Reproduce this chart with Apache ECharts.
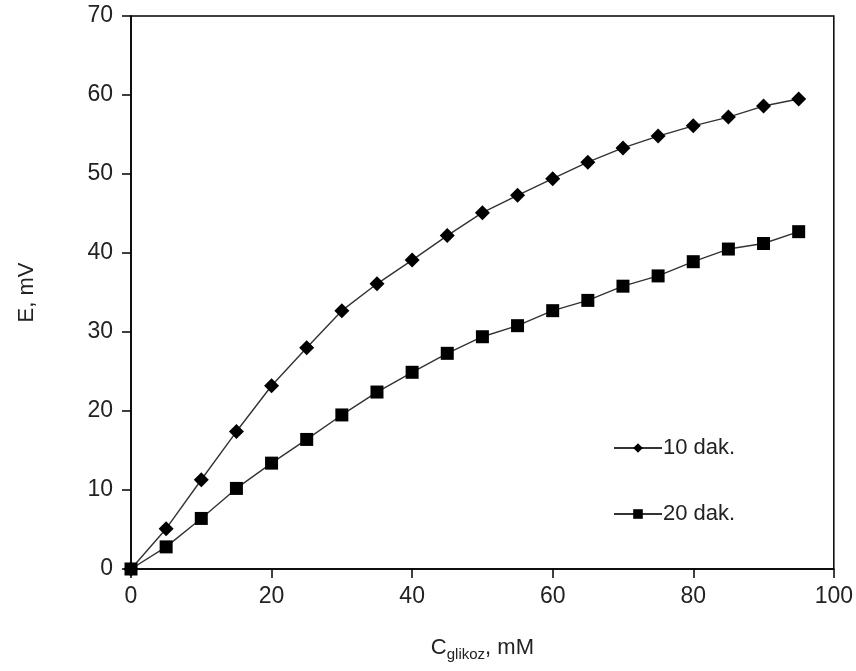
<!DOCTYPE html>
<html>
<head>
<meta charset="utf-8">
<script src="https://cdn.jsdelivr.net/npm/echarts@6/dist/echarts.min.js"></script>
<style>
html,body{margin:0;padding:0;background:#fff;}
#chart{width:856px;height:671px;}
</style>
</head>
<body>
<div id="chart"></div>
<script>
const concentrations = [0, 5, 10, 15, 20, 25, 30, 35, 40, 45, 50, 55, 60, 65, 70, 75, 80, 85, 90, 95];
const e10dak = [0, 5.1, 11.3, 17.4, 23.2, 28.0, 32.7, 36.1, 39.1, 42.2, 45.1, 47.3, 49.4, 51.5, 53.3, 54.8, 56.1, 57.2, 58.6, 59.5];
const e20dak = [0, 2.8, 6.4, 10.2, 13.4, 16.4, 19.5, 22.4, 24.9, 27.3, 29.4, 30.8, 32.7, 34.0, 35.8, 37.1, 38.9, 40.5, 41.2, 42.7];
const seriesNames = ['10 dak.', '20 dak.'];
const xTicks = [0, 20, 40, 60, 80, 100];
const yTicks = [0, 10, 20, 30, 40, 50, 60, 70];

const FONT = '"Liberation Sans", Arial, sans-serif';
const chart = echarts.init(document.getElementById('chart'), null, {renderer: 'canvas'});

const pairs = (xs, ys) => xs.map((x, i) => [x, ys[i]]);

chart.setOption({
  backgroundColor: '#ffffff',
  animation: false,
  textStyle: {fontFamily: FONT},
  grid: {left: 131, right: 22, top: 16, bottom: 102, show: true, borderColor: '#000', borderWidth: 1.5, backgroundColor: 'transparent'},
  legend: {
    orient: 'vertical',
    left: 608,
    top: 432,
    itemWidth: 48,
    itemHeight: 12,
    itemGap: 44,
    data: seriesNames,
    textStyle: {fontFamily: FONT, fontSize: 22, color: '#222', padding: [0, 0, 0, -4]}
  },
  xAxis: {
    type: 'value',
    min: xTicks[0],
    max: xTicks[xTicks.length - 1],
    interval: 20,
    name: '{c|C}{s|glikoz}{c|, mM}',
    nameLocation: 'middle',
    nameGap: 64,
    nameTextStyle: {
      rich: {
        c: {fontFamily: FONT, fontSize: 22, color: '#222', verticalAlign: 'bottom', lineHeight: 26},
        s: {fontFamily: FONT, fontSize: 15, color: '#222', verticalAlign: 'bottom', lineHeight: 20, padding: [0, 0, -3, 0]}
      }
    },
    axisLine: {onZero: false, lineStyle: {color: '#000', width: 1.5}},
    axisTick: {show: true, inside: false, length: 9, lineStyle: {color: '#000', width: 1.5}},
    axisLabel: {fontFamily: FONT, fontSize: 23, color: '#222', margin: 16},
    splitLine: {show: false}
  },
  yAxis: {
    type: 'value',
    min: yTicks[0],
    max: yTicks[yTicks.length - 1],
    interval: 10,
    name: 'E, mV',
    nameLocation: 'middle',
    nameGap: 93,
    nameTextStyle: {fontFamily: FONT, fontSize: 22, color: '#222'},
    axisLine: {onZero: false, lineStyle: {color: '#000', width: 1.5}},
    axisTick: {show: true, inside: false, length: 9, lineStyle: {color: '#000', width: 1.5}},
    axisLabel: {fontFamily: FONT, fontSize: 23, color: '#222', margin: 18},
    splitLine: {show: false}
  },
  series: [
    {
      name: seriesNames[0],
      type: 'line',
      data: pairs(concentrations, e10dak),
      symbol: 'diamond',
      symbolSize: 15,
      showAllSymbol: true,
      itemStyle: {color: '#000'},
      lineStyle: {color: '#333', width: 1.4},
      z: 2
    },
    {
      name: seriesNames[1],
      type: 'line',
      data: pairs(concentrations, e20dak),
      symbol: 'rect',
      symbolSize: 13,
      showAllSymbol: true,
      itemStyle: {color: '#000'},
      lineStyle: {color: '#333', width: 1.4},
      z: 3
    }
  ]
});
</script>
</body>
</html>
